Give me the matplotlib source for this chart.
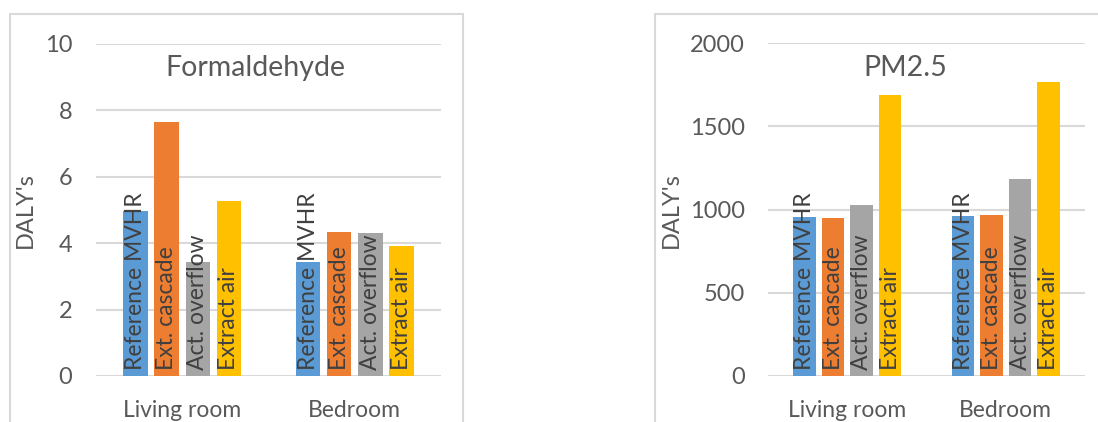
import matplotlib
matplotlib.use('Agg')
import matplotlib.pyplot as plt
from matplotlib.patches import Rectangle
import numpy as np

plt.rcParams.update({
    'font.family': ['Lato', 'DejaVu Sans'],
    'text.color': '#595959',
    'axes.labelcolor': '#595959',
    'xtick.color': '#595959',
    'ytick.color': '#595959',
})

# Data
rooms = ['Living room', 'Bedroom']
systems = ['Reference MVHR', 'Ext. cascade', 'Act. overflow', 'Extract air']
formaldehyde = {
    'Reference MVHR': [4.97, 3.42],
    'Ext. cascade': [7.64, 4.33],
    'Act. overflow': [3.42, 4.30],
    'Extract air': [5.27, 3.92],
}
pm25 = {
    'Reference MVHR': [954, 962],
    'Ext. cascade': [948, 966],
    'Act. overflow': [1028, 1182],
    'Extract air': [1689, 1765],
}
colors = ['#5B9BD5', '#ED7D31', '#A5A5A5', '#FFC000']

W, H = 1098, 422
fig = plt.figure(figsize=(W / 100, H / 100), dpi=100)

# chart area frames
for x0, x1 in [(10, 463), (655, 1110)]:
    fig.patches.append(Rectangle((x0 / W, -0.05), (x1 - x0) / W, (H - 14) / H + 0.05,
                                 transform=fig.transFigure, fill=False,
                                 edgecolor='#D9D9D9', linewidth=1.5))


def draw_panel(rect, data, ymax, step, title, title_xy, ylab_x):
    ax = fig.add_axes(rect)
    x = np.arange(len(rooms))
    bw, gap = 0.142, 0.18
    for i, s in enumerate(systems):
        xs = x + (i - 1.5) * gap
        ax.bar(xs, data[s], width=bw, color=colors[i], zorder=3)
        for xv in xs:
            ax.annotate(s, xy=(xv, 0), xytext=(0, 4), textcoords='offset points',
                        rotation=90, ha='center', va='bottom', fontsize=16.5,
                        color='#404040', zorder=4)
    ax.set_xlim(-0.5, 1.5)
    ax.set_ylim(0, ymax)
    ax.set_yticks(np.arange(0, ymax + 1e-9, step))
    ax.yaxis.grid(True, color='#D9D9D9', linewidth=1.5, zorder=0)
    ax.set_axisbelow(True)
    for sp in ax.spines.values():
        sp.set_visible(False)
    ax.set_xticks(x)
    ax.set_xticklabels(rooms, fontsize=16.5)
    ax.tick_params(axis='both', length=0, labelsize=16.5)
    ax.tick_params(axis='x', pad=17)
    ax.tick_params(axis='y', pad=17, labelsize=17)
    ax.set_ylabel("DALY's", fontsize=17)
    ax.yaxis.set_label_coords(ylab_x, 0.5)
    fig.text(title_xy[0] / W, 1 - title_xy[1] / H, title, ha='center', va='center',
             fontsize=20.5, color='#595959')
    return ax


draw_panel([96 / W, (H - 376) / H, 345 / W, 332 / H], formaldehyde, 10, 2,
           'Formaldehyde', (255, 68), -0.174)
draw_panel([768.3 / W, (H - 376) / H, 316.7 / W, 332.7 / H], pm25, 2000, 500,
           'PM2.5', (905, 68), -0.272)

fig.savefig('out.png', dpi=100, facecolor='white')
